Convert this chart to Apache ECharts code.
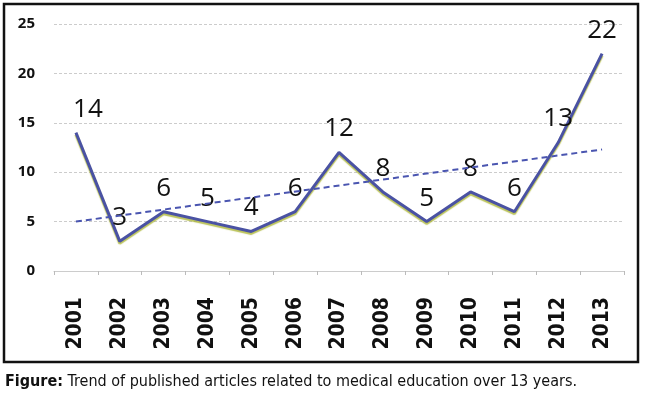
<!DOCTYPE html>
<html>
<head>
<meta charset="utf-8">
<script src="https://cdn.jsdelivr.net/npm/echarts@6/dist/echarts.min.js"></script>
<style>
html, body { margin: 0; padding: 0; background: #fff; }
#main { width: 650px; height: 403px; }
</style>
</head>
<body>
<div id="main"></div>
<script>
// 年份
var years = ['2001', '2002', '2003', '2004', '2005', '2006', '2007', '2008', '2009', '2010', '2011', '2012', '2013'];
// 文章数
var articles = [14, 3, 6, 5, 4, 6, 12, 8, 5, 8, 6, 13, 22];
// 趋势线两端 (2001, 2013)
var trendEnds = [5.0, 12.3];
var yTicks = [0, 5, 10, 15, 20, 25];
var caption = 'Trend of published articles related to medical education over 13 years.';

var myChart = echarts.init(document.getElementById('main'));

var option = {
	animation: false,
	grid: {
		left: 54,
		right: 26,
		top: 24,
		bottom: 132
	},
	graphic: [{
			type: 'rect',
			shape: { x: 4, y: 4, width: 634, height: 358 },
			style: { fill: 'none', stroke: '#111', lineWidth: 2.5 }
		},
		{
			type: 'text',
			left: 5,
			top: 374,
			style: {
				text: '{b|Figure:} ' + caption,
				rich: {
					b: { fontWeight: 'bold', fontSize: 16, fontFamily: 'DejaVu Sans Condensed', fill: '#111' }
				},
				fontSize: 16,
				fontFamily: 'DejaVu Sans Condensed',
				fill: '#111'
			}
		}
	],
	xAxis: {
		type: 'category',
		data: years,
		boundaryGap: true,
		axisLine: { lineStyle: { color: '#ccc', width: 1 } },
		axisTick: { show: true, length: 4, lineStyle: { color: '#bbb' } },
		axisLabel: {
			rotate: 90,
			margin: 26,
			fontSize: 21,
			fontFamily: 'DejaVu Sans Condensed',
			fontWeight: 'bold',
			color: '#111'
		}
	},
	yAxis: {
		type: 'value',
		min: yTicks[0],
		max: yTicks[yTicks.length - 1],
		interval: 5,
		axisLine: { show: false },
		axisTick: { show: false },
		axisLabel: {
			margin: 19,
			fontSize: 15,
			fontWeight: 'bold',
			fontFamily: 'Open Sans',
			color: '#111'
		},
		splitLine: { lineStyle: { color: '#ccc', type: [3, 2] } }
	},
	series: [{
			name: 'articles',
			type: 'line',
			data: articles,
			symbol: 'circle',
			symbolSize: 1,
			itemStyle: { color: 'rgba(0,0,0,0)' },
			lineStyle: {
				color: '#4a52a3',
				width: 3,
				shadowColor: 'rgba(170,180,50,0.8)',
				shadowOffsetY: 2,
				shadowBlur: 1
			},
			label: {
				show: true,
				position: 'top',
				distance: 10,
				fontSize: 26,
				fontWeight: 500,
				fontFamily: 'Open Sans',
				color: '#111'
			},
			labelLayout: function (params) {
				if (params.dataIndex === 0) {
					return { dx: 12 };
				}
				return {};
			},
			markLine: {
				silent: true,
				symbol: 'none',
				label: { show: false },
				lineStyle: { color: '#4a55b0', width: 2, type: [6, 4] },
				data: [
					[{ coord: [years[0], trendEnds[0]] }, { coord: [years[years.length - 1], trendEnds[1]] }]
				]
			}
		}
	]
};

myChart.setOption(option);
</script>
</body>
</html>
